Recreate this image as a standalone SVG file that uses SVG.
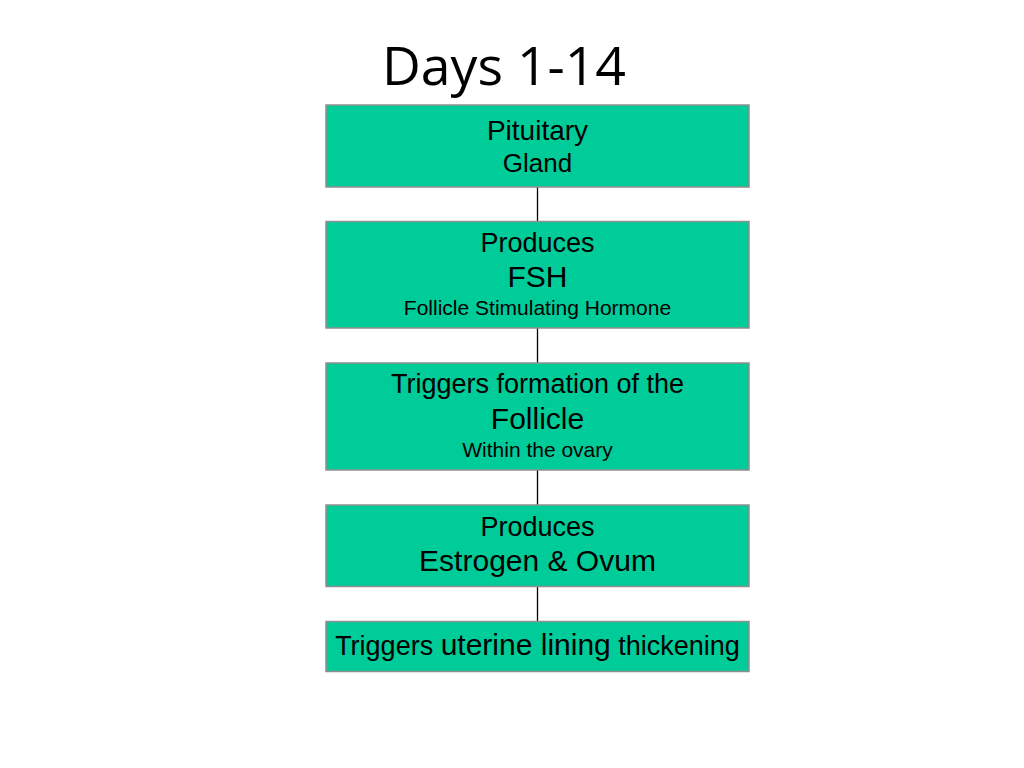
<svg xmlns="http://www.w3.org/2000/svg" width="1024" height="768" viewBox="0 0 1024 768">
<style>
.box{fill:#00CC99;stroke:#8f8f8f;stroke-width:1.5}
.t{font-family:"Liberation Sans",Arial,sans-serif;fill:#000;text-anchor:middle}
.title{font-family:"Open Sans","Liberation Sans",sans-serif;font-size:53px;fill:#000;text-anchor:middle}
.conn{stroke:#000;stroke-width:1.3;fill:none}
</style>
<rect width="1024" height="768" fill="#fff"/>
<text class="title" x="504" y="85" textLength="244" lengthAdjust="spacingAndGlyphs">Days 1-14</text>
<g id="connectors">
<line class="conn" x1="537.5" y1="187" x2="537.5" y2="221"/>
<line class="conn" x1="537.5" y1="328" x2="537.5" y2="363"/>
<line class="conn" x1="537.5" y1="470" x2="537.5" y2="505"/>
<line class="conn" x1="537.5" y1="586" x2="537.5" y2="621"/>
</g>
<g id="pituitary">
<rect class="box" x="326" y="105" width="423" height="82"/>
<text class="t" x="537.5" y="140" font-size="28">Pituitary</text>
<text class="t" x="537.5" y="172" font-size="26">Gland</text>
</g>
<g id="fsh">
<rect class="box" x="326" y="221.5" width="423" height="106.5"/>
<text class="t" x="537.5" y="252" font-size="27">Produces</text>
<text class="t" x="537.5" y="287" font-size="30">FSH</text>
<text class="t" x="537.5" y="315" font-size="21">Follicle Stimulating Hormone</text>
</g>
<g id="follicle">
<rect class="box" x="326" y="363" width="423" height="107"/>
<text class="t" x="537.5" y="393" font-size="27">Triggers formation of the</text>
<text class="t" x="537.5" y="429" font-size="30">Follicle</text>
<text class="t" x="537.5" y="457" font-size="21">Within the ovary</text>
</g>
<g id="estrogen">
<rect class="box" x="326" y="505" width="423" height="81.5"/>
<text class="t" x="537.5" y="536" font-size="27">Produces</text>
<text class="t" x="537.5" y="571" font-size="30">Estrogen &amp; Ovum</text>
</g>
<g id="uterine">
<rect class="box" x="326" y="621.5" width="423" height="50"/>
<text class="t" x="537.5" y="655" font-size="27">Triggers <tspan font-size="30">uterine lining</tspan> thickening</text>
</g>
</svg>
